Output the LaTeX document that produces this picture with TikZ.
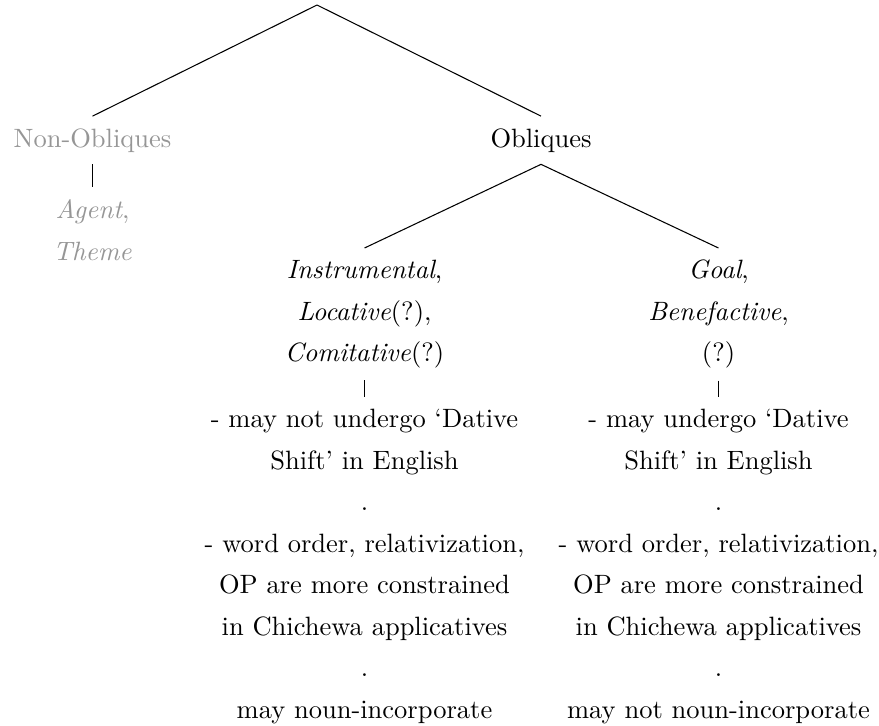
\documentclass[tikz,border=0pt]{standalone}
\definecolor{nongray}{RGB}{150,150,150}
\begin{document}
\begin{tikzpicture}[x=0.37736pt,y=-0.37736pt,
  every node/.style={inner sep=4.4pt,font=\fontsize{10}{15.66}\selectfont},
  blk/.style={align=center,anchor=north},
  gr/.style={text=nongray},
  edge/.style={draw=black,line width=0.4pt}]
\useasboundingbox (0,0) rectangle (879,725);
\coordinate (root) at (317,5);
\node[anchor=base,gr] (nonobl) at (92.5,147) {Non-Obliques};
\node[anchor=base] (obl) at (541,147) {Obliques};
\node[blk,gr] (agent) at (92.5,187.4) {\textit{Agent},\\\textit{Theme}};
\node[blk] (instr) at (364.5,248) {\textit{Instrumental},\\\textit{Locative}(?),\\\textit{Comitative}(?)};
\node[blk] (goal) at (718.5,248) {\textit{Goal},\\\textit{Benefactive},\\(?)};
\node[blk] (lprop) at (364.5,397) {- may not undergo `Dative\\Shift' in English\\.\\- word order, relativization,\\OP are more constrained\\in Chichewa applicatives\\.\\may noun-incorporate};
\node[blk] (rprop) at (718.5,397) {- may undergo `Dative\\Shift' in English\\.\\- word order, relativization,\\OP are more constrained\\in Chichewa applicatives\\.\\may not noun-incorporate};
\draw[edge] (root) -- (nonobl.north);
\draw[edge] (root) -- (obl.north);
\draw[edge] (nonobl.south) -- (agent.north);
\draw[edge] (obl.south) -- (instr.north);
\draw[edge] (obl.south) -- (goal.north);
\draw[edge] (instr.south) -- (lprop.north);
\draw[edge] (goal.south) -- (rprop.north);
\end{tikzpicture}
\end{document}
